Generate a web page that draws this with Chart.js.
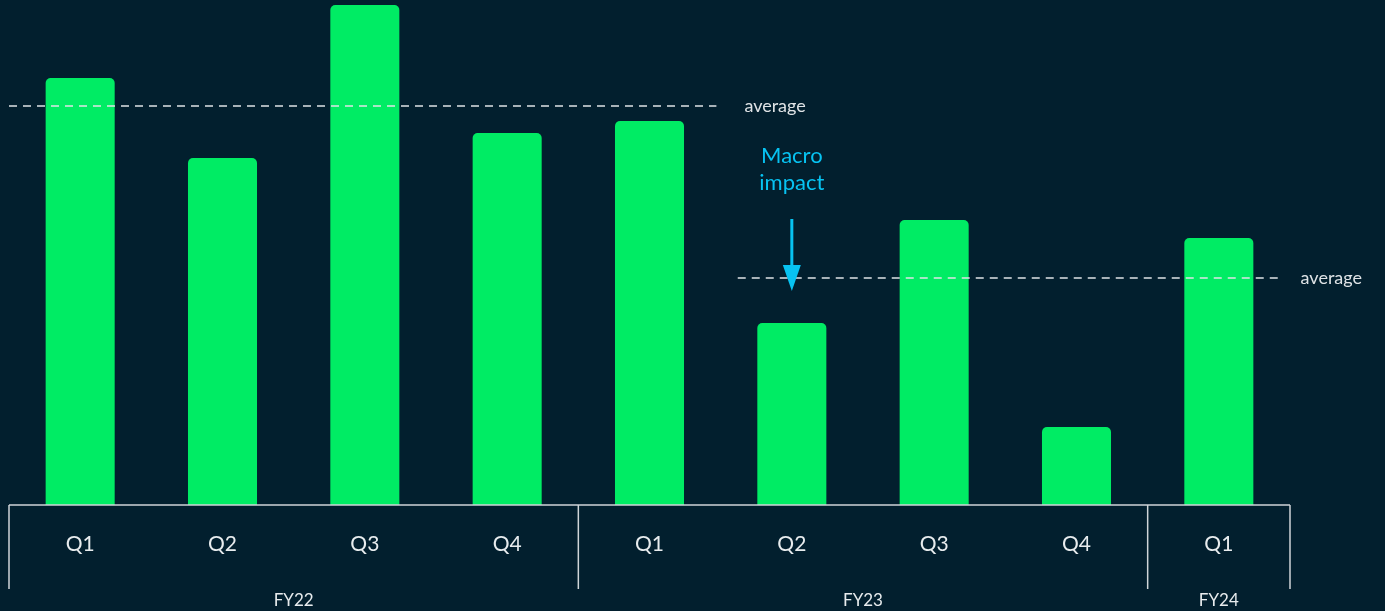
<!DOCTYPE html>
<html>
<head>
<meta charset="utf-8">
<script src="https://cdn.jsdelivr.net/npm/chart.js"></script>
<style>
  html, body { margin: 0; padding: 0; background: #021f2e; }
  #wrap { width: 1385px; height: 611px; }
</style>
</head>
<body>
<div id="wrap"><canvas id="myChart"></canvas></div>
<script>
// data (arbitrary units)
const quarters = ['Q1', 'Q2', 'Q3', 'Q4', 'Q1', 'Q2', 'Q3', 'Q4', 'Q1'];
const values = [427, 347, 500, 372, 384, 182, 285, 78, 267];
const years = ['FY22', 'FY23', 'FY24'];
const yearSpans = [[0, 3], [4, 7], [8, 8]];
const averages = [399, 227];
const averageSpans = [[-0.5, 4.47], [4.62, 8.42]];
const note = ['Macro', 'impact'];
const noteIndex = 5;

const font = 'Lato, "Open Sans", sans-serif';

const extras = {
  id: 'extras',
  afterDatasetsDraw(chart) {
    const c = chart.ctx;
    const x = chart.scales.x, y = chart.scales.y;
    const bottom = chart.chartArea.bottom;
    const step = x.getPixelForValue(1) - x.getPixelForValue(0);
    c.save();

    // average lines + labels
    c.strokeStyle = '#dfe3e6';
    c.lineWidth = 1.5;
    c.setLineDash([8, 6]);
    c.fillStyle = '#dfe3e6';
    c.font = '18px ' + font;
    c.textBaseline = 'middle';
    averages.forEach((a, i) => {
      const py = y.getPixelForValue(a);
      const x0 = x.getPixelForValue(0) + averageSpans[i][0] * step;
      const x1 = x.getPixelForValue(0) + averageSpans[i][1] * step;
      c.beginPath();
      c.moveTo(x0, py);
      c.lineTo(x1, py);
      c.stroke();
      c.fillText('average', x1 + (i === 0 ? 28 : 22), py);
    });
    c.setLineDash([]);

    // group separators
    c.strokeStyle = '#d0d5d8';
    c.lineWidth = 1.5;
    const edges = [x.getPixelForValue(0) - step / 2];
    yearSpans.forEach(s => edges.push(x.getPixelForValue(s[1]) + step / 2));
    edges.forEach(ex => {
      c.beginPath();
      c.moveTo(ex, bottom);
      c.lineTo(ex, bottom + 84);
      c.stroke();
    });
    c.beginPath();
    c.moveTo(edges[0], bottom);
    c.lineTo(edges[edges.length - 1], bottom);
    c.stroke();

    // year labels
    c.fillStyle = '#e8ecee';
    c.font = '17px ' + font;
    c.textAlign = 'center';
    years.forEach((yr, i) => {
      const cx = (edges[i] + edges[i + 1]) / 2;
      c.fillText(yr, cx, bottom + 96);
    });

    // macro impact note with arrow
    const ax = x.getPixelForValue(noteIndex);
    const tip = y.getPixelForValue(averages[1]) + 13;
    c.fillStyle = '#07c3f2';
    c.strokeStyle = '#07c3f2';
    c.font = '22px ' + font;
    c.fillText(note[0], ax, y.getPixelForValue(averages[1]) - 122);
    c.fillText(note[1], ax, y.getPixelForValue(averages[1]) - 95);
    c.lineWidth = 3;
    c.beginPath();
    c.moveTo(ax, tip - 72);
    c.lineTo(ax, tip - 22);
    c.stroke();
    c.beginPath();
    c.moveTo(ax - 9, tip - 26);
    c.lineTo(ax + 9, tip - 26);
    c.lineTo(ax, tip);
    c.closePath();
    c.fill();
    c.restore();
  }
};

new Chart(document.getElementById('myChart'), {
  type: 'bar',
  data: {
    labels: quarters,
    datasets: [{
      data: values,
      backgroundColor: '#00ec64',
      borderRadius: { topLeft: 5, topRight: 5 },
      borderSkipped: 'bottom',
      categoryPercentage: 1,
      barPercentage: 0.485
    }]
  },
  options: {
    responsive: true,
    maintainAspectRatio: false,
    animation: false,
    layout: { padding: { left: 9, right: 95, top: 5, bottom: 0 } },
    plugins: { legend: { display: false }, tooltip: { enabled: false } },
    scales: {
      x: {
        grid: { display: false },
        border: { display: false },
        ticks: { color: '#e8ecee', font: { family: font, size: 21 }, padding: 19 },
        afterFit(scale) { scale.height = 106; }
      },
      y: {
        display: false,
        min: 0,
        max: 500
      }
    }
  },
  plugins: [extras]
});
</script>
</body>
</html>
